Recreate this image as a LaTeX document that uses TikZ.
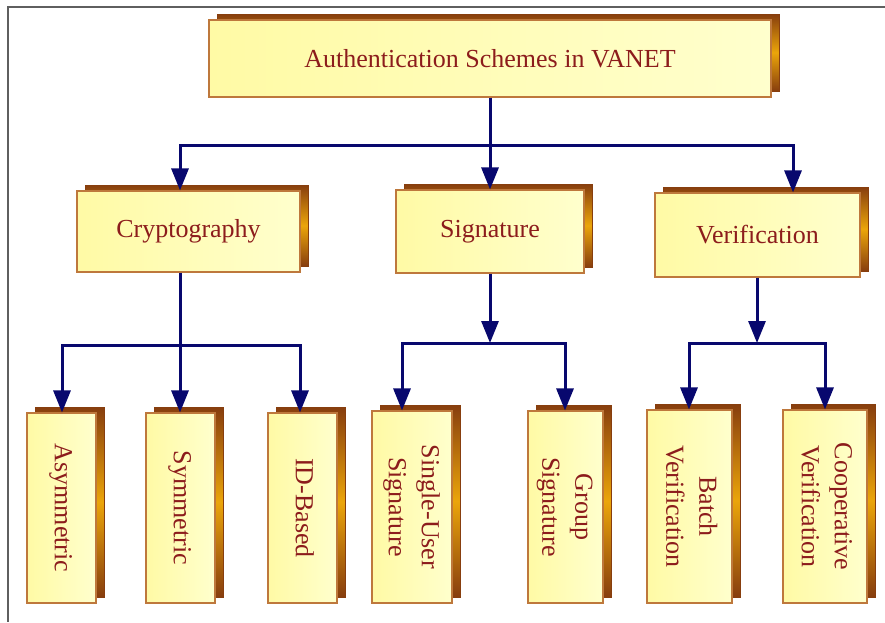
\documentclass[tikz,border=0pt]{standalone}
\usepackage{graphicx}
\usepackage{fontspec}
\setmainfont{Liberation Serif}
\usetikzlibrary{arrows.meta,shadows}

\definecolor{wirecol}{RGB}{8,8,110}
\definecolor{txtcol}{RGB}{140,28,28}
\definecolor{edgecol}{RGB}{190,120,60}
\definecolor{faceL}{RGB}{255,250,165}
\definecolor{faceR}{RGB}{255,255,205}
\definecolor{shdark}{RGB}{135,62,14}
\definecolor{shlight}{RGB}{235,165,10}
\definecolor{framecol}{RGB}{95,95,95}

\newcommand{\vtext}[1]{\rotatebox{-90}{\begin{tabular}{@{}c@{}}#1\end{tabular}}}

\tikzset{
  box/.style={draw=edgecol, line width=1.1pt, left color=faceL, right color=faceR,
    text=txtcol, font=\fontsize{26}{33}\selectfont, align=center, inner sep=0pt,
    general shadow={shadow xshift=8pt, shadow yshift=6pt,
      top color=shdark, bottom color=shdark, middle color=shlight,
      draw=shdark, line width=0.6pt}},
  wire/.style={draw=wirecol, line width=3pt, line cap=rect},
  arr/.style={draw=wirecol, line width=3pt,
    -{Triangle[width=17pt,length=22pt]}},
  frameline/.style={draw=framecol, line width=1.6pt}
}

\begin{document}
\begin{tikzpicture}[x=1pt,y=-1pt]
\useasboundingbox (0,0) rectangle (885,622);
\fill[white] (0,0) rectangle (885,622);
\draw[frameline] (885,7) -- (8,7) -- (8,622);

% root
\node[box, minimum width=562pt, minimum height=77pt] (root) at (490,58.5) {Authentication Schemes in VANET};

% second level
\node[box, minimum width=223pt, minimum height=81pt] (crypt) at (188.5,231.5) {Cryptography};
\node[box, minimum width=188pt, minimum height=83pt] (sig) at (490,231.5) {Signature};
\node[box, minimum width=205pt, minimum height=84pt] (ver) at (757.5,235) {Verification};

% leaves
\node[box, minimum width=69pt, minimum height=190pt] (asym) at (61.5,508) {\vtext{Asymmetric}};
\node[box, minimum width=69pt, minimum height=190pt] (sym) at (180.5,508) {\vtext{Symmetric}};
\node[box, minimum width=69pt, minimum height=190pt] (idb) at (302.5,508) {\vtext{ID-Based}};
\node[box, minimum width=80pt, minimum height=192pt] (single) at (412,507) {\vtext{Single-User\\Signature}};
\node[box, minimum width=75pt, minimum height=192pt] (group) at (565.5,507) {\vtext{Group\\Signature}};
\node[box, minimum width=85pt, minimum height=193pt] (batch) at (689.5,506.5) {\vtext{Batch\\Verification}};
\node[box, minimum width=84pt, minimum height=193pt] (coop) at (825,506.5) {\vtext{Cooperative\\Verification}};

% bus junctions
\coordinate (busL) at (180,145);
\coordinate (busR) at (793,145);
\coordinate (cbus) at (180,345);
\coordinate (cbusL) at (62,345);
\coordinate (cbusR) at (300,345);
\coordinate (sbus) at (490,343);
\coordinate (sbusL) at (402,343);
\coordinate (sbusR) at (565,343);
\coordinate (vbus) at (757,343);
\coordinate (vbusL) at (689,343);
\coordinate (vbusR) at (825,343);

% root to second level
\draw[wire] (busL) -- (busR);
\draw[arr] (root.south) -- (sig.north);
\draw[arr] (busL) -- (busL |- crypt.north);
\draw[arr] (busR) -- (busR |- ver.north);

% cryptography branch
\draw[wire] (cbusL) -- (cbusR);
\draw[arr] (cbus |- crypt.south) -- (cbus |- sym.north);
\draw[arr] (cbusL) -- (cbusL |- asym.north);
\draw[arr] (cbusR) -- (cbusR |- idb.north);

% signature branch
\draw[wire] (sbusL) -- (sbusR);
\draw[arr] (sig.south) -- (sbus);
\draw[arr] (sbusL) -- (sbusL |- single.north);
\draw[arr] (sbusR) -- (sbusR |- group.north);

% verification branch
\draw[wire] (vbusL) -- (vbusR);
\draw[arr] (vbus |- ver.south) -- (vbus);
\draw[arr] (vbusL) -- (vbusL |- batch.north);
\draw[arr] (vbusR) -- (vbusR |- coop.north);
\end{tikzpicture}
\end{document}
